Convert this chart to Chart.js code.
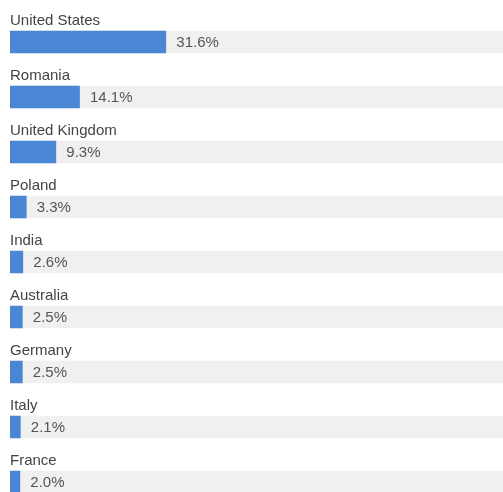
<!DOCTYPE html>
<html>
<head>
<meta charset="utf-8">
<script src="https://cdn.jsdelivr.net/npm/chart.js@4"></script>
<style>
html,body{margin:0;padding:0;background:#fff;overflow:hidden;}
#wrap{position:relative;width:503px;height:510px;}
</style>
</head>
<body>
<div id="wrap"><canvas id="c"></canvas></div>
<script>
const categories = ["United States","Romania","United Kingdom","Poland","India","Australia","Germany","Italy","France"];
const values = [31.6, 14.1, 9.3, 3.3, 2.6, 2.5, 2.5, 2.1, 2.0];
const trackValues = [100, 100, 100, 100, 100, 100, 100, 100, 100];

const labelPlugin = {
  id: 'labelPlugin',
  afterDatasetsDraw(chart) {
    const ctx = chart.ctx;
    const meta = chart.getDatasetMeta(1);
    const left = chart.chartArea.left;
    ctx.save();
    ctx.font = '15px "Liberation Sans", Arial, sans-serif';
    ctx.textBaseline = 'middle';
    ctx.textAlign = 'left';
    meta.data.forEach((bar, i) => {
      ctx.fillStyle = '#444444';
      ctx.fillText(categories[i], left, bar.y - 21.5);
      ctx.fillStyle = '#555555';
      ctx.fillText(values[i].toFixed(1) + '%', bar.x + 10.5, bar.y + 0.5);
    });
    ctx.restore();
  }
};

new Chart(document.getElementById('c'), {
  type: 'bar',
  data: {
    labels: categories,
    datasets: [
      { data: trackValues, backgroundColor: '#f0f0f0', barThickness: 22, order: 2 },
      { data: values, backgroundColor: '#4a86d4', barThickness: 22, order: 1 }
    ]
  },
  options: {
    indexAxis: 'y',
    responsive: true,
    maintainAspectRatio: false,
    animation: false,
    layout: { padding: { left: 10, right: 0, top: 14.5, bottom: 0.5 } },
    plugins: { legend: { display: false }, tooltip: { enabled: false } },
    scales: {
      x: { display: false, min: 0, max: 100 },
      y: { display: false, stacked: true, offset: true }
    }
  },
  plugins: [labelPlugin]
});
</script>
</body>
</html>
